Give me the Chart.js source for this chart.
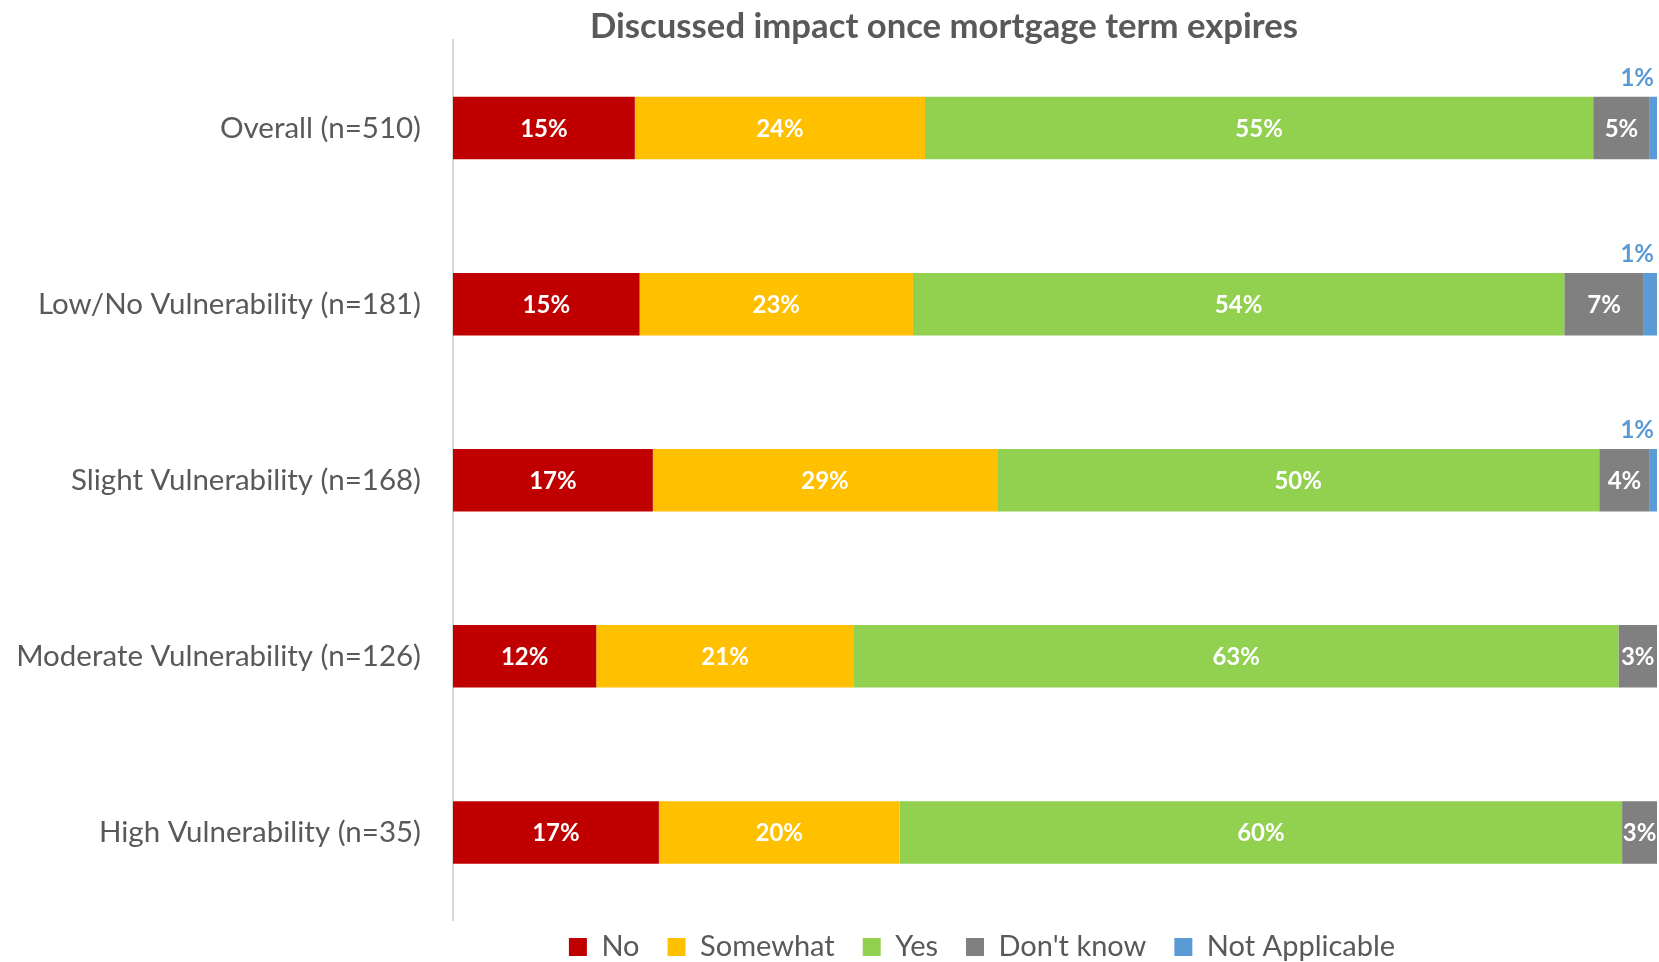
<!DOCTYPE html>
<html><head><meta charset="utf-8">
<script src="https://cdn.jsdelivr.net/npm/chart.js@4/dist/chart.umd.min.js"></script>
<style>html,body{margin:0;padding:0;background:#fff}#wrap{width:1659px;height:962px}</style>
</head><body><div id="wrap"><canvas id="c" width="1659" height="962"></canvas></div>
<script>
const chartTitle = 'Discussed impact once mortgage term expires';
const categories = ['Overall (n=510)','Low/No Vulnerability (n=181)','Slight Vulnerability (n=168)','Moderate Vulnerability (n=126)','High Vulnerability (n=35)'];
const seriesNames = ['No','Somewhat','Yes',"Don't know",'Not Applicable'];
const noValues = [15.1, 15.5, 16.6, 11.9, 17.1];
const somewhatValues = [24.1, 22.7, 28.6, 21.4, 20.0];
const yesValues = [55.5, 54.1, 50.0, 63.5, 60.0];
const dontKnowValues = [4.7, 6.6, 4.2, 3.2, 2.9];
const naValues = [0.6, 1.1, 0.6, 0, 0];
const noLabels = ['15%','15%','17%','12%','17%'];
const somewhatLabels = ['24%','23%','29%','21%','20%'];
const yesLabels = ['55%','54%','50%','63%','60%'];
const dontKnowLabels = ['5%','7%','4%','3%','3%'];
const naLabels = ['1%','1%','1%','',''];
const colors = ['#C00000','#FFC000','#92D050','#808080','#5B9BD5'];

const valueSets = [noValues, somewhatValues, yesValues, dontKnowValues, naValues];
const labelSets = [noLabels, somewhatLabels, yesLabels, dontKnowLabels, naLabels];

const FONT = 'Lato, "Open Sans", sans-serif';
const TEXT = '#595959';
const AXIS_X = 453;
const LEGEND_FONT = 29;
const LEGEND_PAD = 28;
const LEGEND_CENTER_X = 982;
const LEGEND_CENTER_Y = 947;

const titlePlugin = {
  id: 'customTitle',
  afterDraw(chart) {
    const ctx = chart.ctx;
    ctx.save();
    ctx.font = 'bold 34.7px ' + FONT;
    ctx.fillStyle = TEXT;
    ctx.textAlign = 'center';
    ctx.textBaseline = 'middle';
    ctx.fillText(chartTitle, 944, 27);
    ctx.restore();
  }
};

const legendShift = {
  id: 'legendShift',
  afterLayout(chart) {
    const lg = chart.legend;
    if (!lg) return;
    const dx = LEGEND_CENTER_X - (lg.left + lg.right) / 2;
    lg.left += dx; lg.right += dx;
    lg.top = LEGEND_CENTER_Y - LEGEND_PAD - LEGEND_FONT / 2;
    lg.bottom = chart.height;
    lg.height = lg.bottom - lg.top;
  }
};

const labelPlugin = {
  id: 'barLabels',
  afterDatasetsDraw(chart) {
    const ctx = chart.ctx;
    ctx.save();
    ctx.textBaseline = 'middle';
    chart.data.datasets.forEach((ds, di) => {
      const meta = chart.getDatasetMeta(di);
      meta.data.forEach((bar, i) => {
        const txt = labelSets[di][i];
        if (!txt || !ds.data[i]) return;
        const p = bar.getProps(['x','y','base','height'], true);
        ctx.font = 'bold 24px ' + FONT;
        if (di === 4) {
          ctx.fillStyle = colors[4];
          ctx.textAlign = 'right';
          ctx.fillText(txt, Math.min(p.x + 5, chart.width - 5), p.y - p.height / 2 - 19);
        } else {
          ctx.fillStyle = '#FFFFFF';
          ctx.textAlign = 'center';
          ctx.fillText(txt, (p.x + p.base) / 2, p.y + 1);
        }
      });
    });
    ctx.restore();
  }
};

new Chart(document.getElementById('c'), {
  type: 'bar',
  data: {
    labels: categories,
    datasets: seriesNames.map((name, k) => ({
      label: name,
      data: valueSets[k],
      backgroundColor: colors[k],
      borderWidth: 0,
      barPercentage: 0.355,
      categoryPercentage: 1.0
    }))
  },
  options: {
    indexAxis: 'y',
    responsive: false,
    animation: false,
    layout: { padding: { left: 0, right: 2, top: 40, bottom: 3.5 } },
    scales: {
      x: { stacked: true, min: 0, max: 100, display: false },
      y: {
        stacked: true,
        grid: { display: false, drawTicks: false },
        border: { display: true, color: '#D9D9D9', width: 2 },
        ticks: { color: TEXT, font: { family: FONT, size: 29.5 }, padding: 32 },
        afterFit(scale) {
          scale.width = AXIS_X;
          scale.paddingTop = 0;
          scale.paddingBottom = 0;
        }
      }
    },
    plugins: {
      legend: {
        position: 'bottom',
        maxHeight: 38,
        labels: {
          color: TEXT,
          font: { family: FONT, size: LEGEND_FONT },
          boxWidth: 18, boxHeight: 18,
          padding: LEGEND_PAD
        }
      },
      title: { display: false },
      tooltip: { enabled: false }
    }
  },
  plugins: [titlePlugin, labelPlugin, legendShift]
});
</script>
</body></html>
